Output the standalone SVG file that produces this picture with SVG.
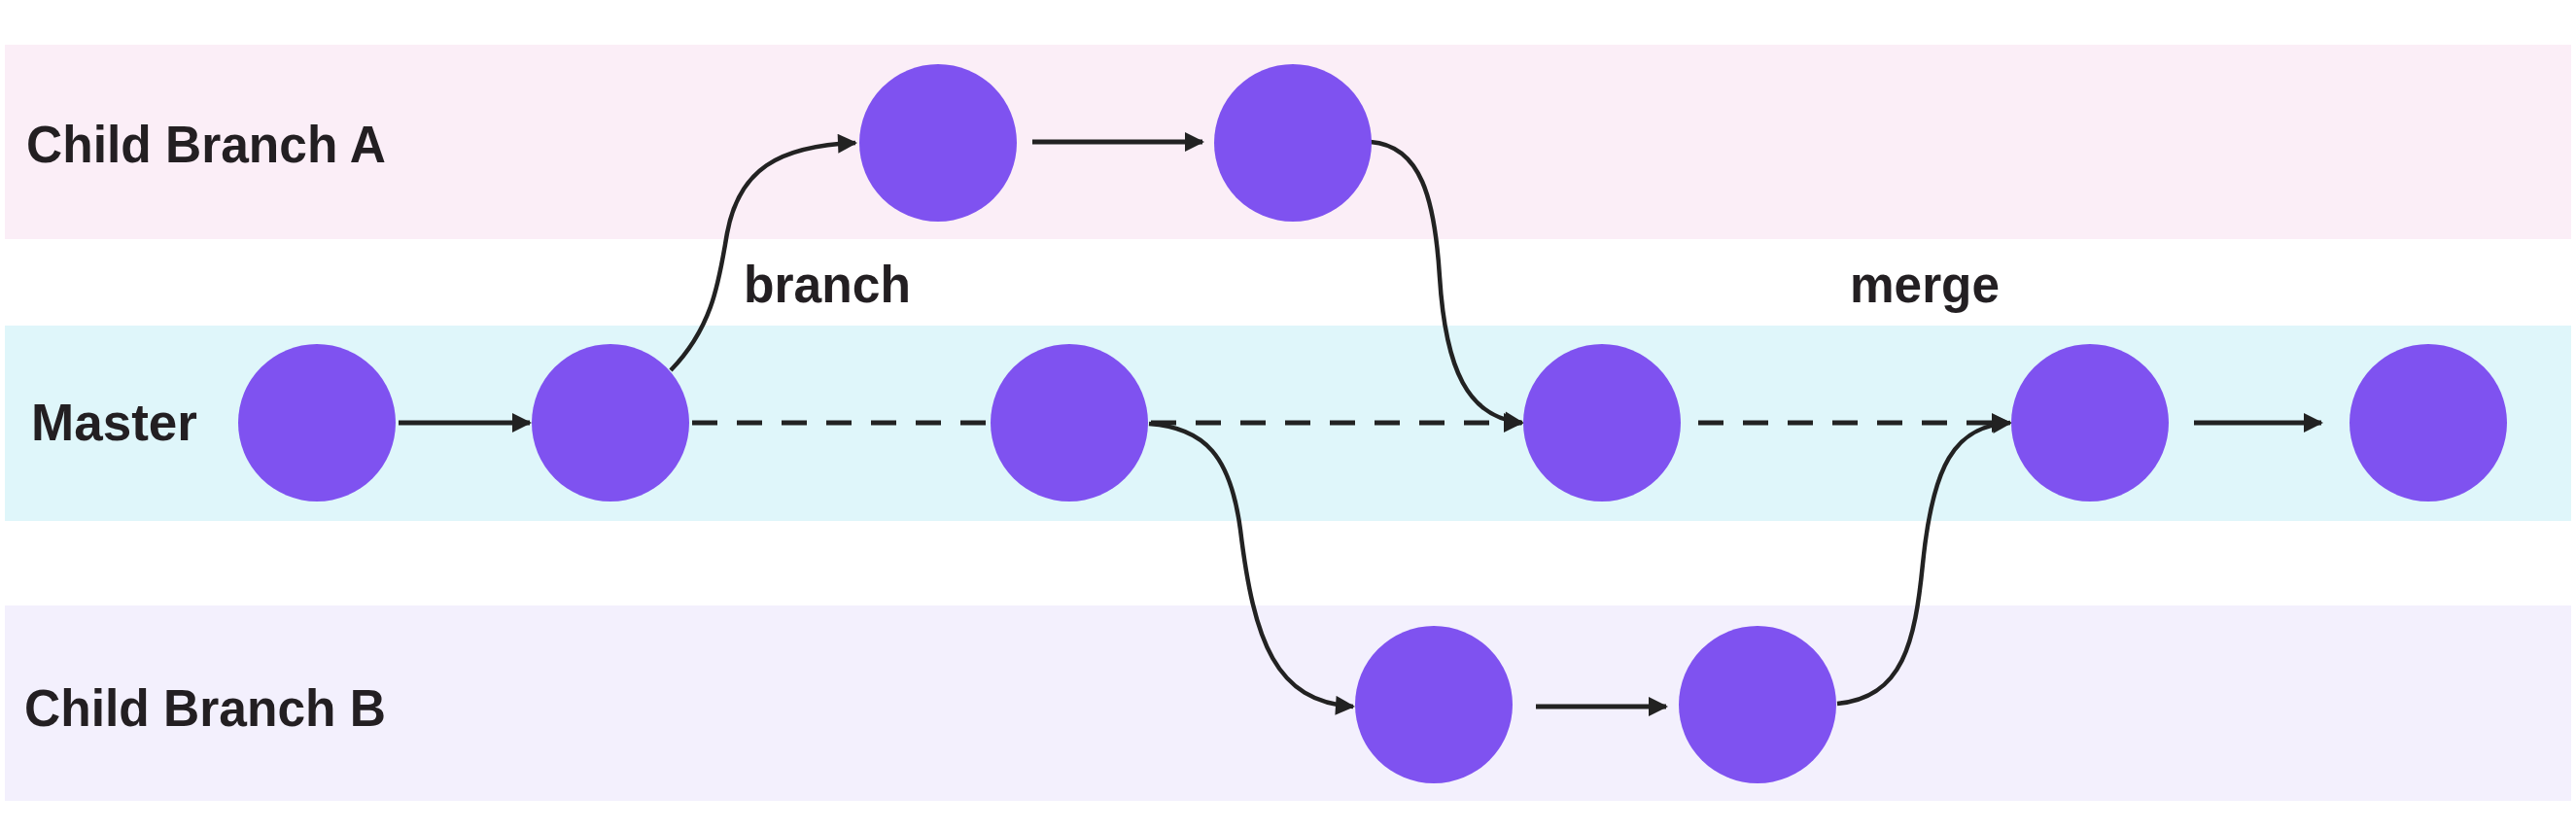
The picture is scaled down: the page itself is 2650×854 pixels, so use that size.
<svg xmlns="http://www.w3.org/2000/svg" width="2650" height="854" viewBox="0 0 2650 854">
<style>
.band-a{fill:#FBEEF7}
.band-m{fill:#DFF6FA}
.band-b{fill:#F3F0FD}
.node{fill:#7F52F0}
.lbl{font-family:"Liberation Sans",Arial,sans-serif;font-weight:bold;font-size:54px;fill:#231F22}
.solid{fill:none;stroke:#222;stroke-width:5}
.curve{fill:none;stroke:#222;stroke-width:4.5}
.dash{fill:none;stroke:#222;stroke-width:5;stroke-dasharray:26 20}
</style>
<defs>
<marker id="arr" viewBox="0 0 10 10" refX="9" refY="5" markerWidth="22" markerHeight="20" markerUnits="userSpaceOnUse" orient="auto">
<path d="M0,0 L10,5 L0,10 z" fill="#222"/>
</marker>
</defs>
<rect width="2650" height="854" fill="#FFFFFF"/>
<g id="bands">
<rect class="band-a" x="5" y="46" width="2640" height="200"/>
<rect class="band-m" x="5" y="335" width="2640" height="201"/>
<rect class="band-b" x="5" y="623" width="2640" height="201"/>
</g>
<g id="labels">
<text class="lbl" x="27" y="167" textLength="370" lengthAdjust="spacingAndGlyphs">Child Branch A</text>
<text class="lbl" x="32" y="453" textLength="171" lengthAdjust="spacingAndGlyphs">Master</text>
<text class="lbl" x="25" y="747" textLength="372" lengthAdjust="spacingAndGlyphs">Child Branch B</text>
<text class="lbl" x="765" y="311" textLength="172" lengthAdjust="spacingAndGlyphs">branch</text>
<text class="lbl" x="1903" y="311" textLength="154" lengthAdjust="spacingAndGlyphs">merge</text>
</g>
<g id="connectors">
<line class="solid" x1="410" y1="435" x2="545" y2="435" marker-end="url(#arr)"/>
<line class="dash" x1="712" y1="435" x2="1019" y2="435"/>
<line class="dash" x1="1184" y1="435" x2="1565" y2="435" marker-end="url(#arr)"/>
<line class="dash" x1="1747" y1="435" x2="2067" y2="435" marker-end="url(#arr)"/>
<line class="solid" x1="2257" y1="435" x2="2388" y2="435" marker-end="url(#arr)"/>
<line class="solid" x1="1062" y1="146" x2="1237" y2="146" marker-end="url(#arr)"/>
<line class="solid" x1="1580" y1="727" x2="1714" y2="727" marker-end="url(#arr)"/>
<path class="curve" d="M 690 381 C 735 335 740 285 748 240 C 760 175 800 150 880 147" marker-end="url(#arr)"/>
<path class="curve" d="M 1410 146 C 1462 150 1476 205 1481 285 C 1487 380 1510 430 1566 435" marker-end="url(#arr)"/>
<path class="curve" d="M 1182 436 C 1240 440 1266 470 1276 545 C 1290 660 1312 722 1392 727" marker-end="url(#arr)"/>
<path class="curve" d="M 1890 724 C 1958 718 1970 660 1978 580 C 1988 480 2010 438 2068 435" marker-end="url(#arr)"/>
</g>
<g id="node-m1"><circle class="node" cx="326" cy="435" r="81"/></g>
<g id="node-m2"><circle class="node" cx="628" cy="435" r="81"/></g>
<g id="node-m3"><circle class="node" cx="1100" cy="435" r="81"/></g>
<g id="node-m4"><circle class="node" cx="1648" cy="435" r="81"/></g>
<g id="node-m5"><circle class="node" cx="2150" cy="435" r="81"/></g>
<g id="node-m6"><circle class="node" cx="2498" cy="435" r="81"/></g>
<g id="node-a1"><circle class="node" cx="965" cy="147" r="81"/></g>
<g id="node-a2"><circle class="node" cx="1330" cy="147" r="81"/></g>
<g id="node-b1"><circle class="node" cx="1475" cy="725" r="81"/></g>
<g id="node-b2"><circle class="node" cx="1808" cy="725" r="81"/></g>
</svg>
